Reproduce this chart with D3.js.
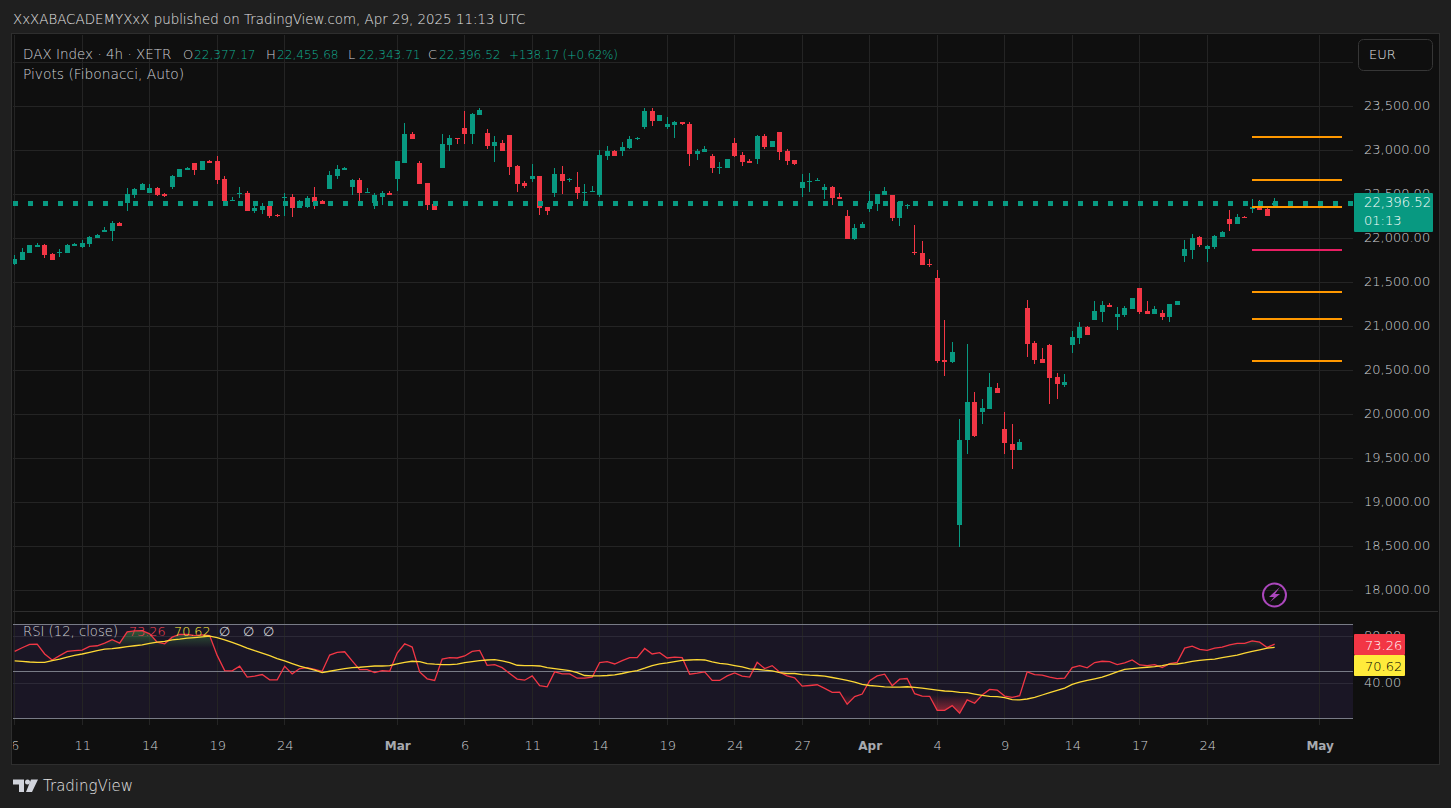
<!DOCTYPE html>
<html>
<head>
<meta charset="utf-8">
<script src="https://cdn.jsdelivr.net/npm/d3@7"></script>
<style>
  html, body { margin: 0; padding: 0; background: #1f1f1f; overflow: hidden; }
  svg { display: block; }
  text { font-family: "DejaVu Sans", sans-serif; font-weight: 200; }
</style>
</head>
<body>
<div id="chart"></div>
<script>
// candle values (index 0 = first bar on the left)
const opens = [
  21708,21753,21833,21901,21924,21821,21833,21833,21912,21901,
  21935,22003,22071,22083,22174,22401,22492,22549,22515,22571,
  22503,22583,22696,22776,22855,22776,22878,22878,22674,22424,
  22503,22515,22310,22321,22367,22264,22458,22469,22344,22355,
  22469,22424,22560,22708,22776,22583,22662,22515,22401,22469,
  22515,22674,22855,23185,22855,22628,22390,22799,23060,23140,
  23253,23185,23401,23196,23049,23083,23174,22821,22628,22674,
  22708,22355,22515,22730,22662,22583,22515,22526,22492,22935,
  22992,22992,23026,23128,23265,23446,23333,23265,23287,23321,
  23299,22958,22981,22935,22799,22799,23083,22947,22878,22901,
  23163,23038,23208,22992,22890,22572,22640,22651,22549,22583,
  22469,22254,21992,22117,22333,22390,22492,22492,22231,22367,
  21844,21833,21708,21548,20617,20594,18742,19707,20139,20026,
  20060,20298,19832,19662,19594,21207,20810,20628,20787,20423,
  20332,20787,20867,20992,21071,21162,21242,21105,21128,21196,
  21435,21173,21139,21151,21105,21242,21799,21867,22014,21878,
  21901,22014,22219,22162,22242,22333,22355,22333,22377.17
];
const highs = [
  21810,21889,21924,21946,21935,21833,21878,21935,21946,21980,
  22026,22049,22128,22196,22185,22571,22571,22628,22617,22583,
  22515,22719,22787,22810,22855,22878,22890,22935,22708,22469,
  22583,22537,22367,22401,22367,22276,22515,22503,22435,22480,
  22583,22435,22765,22833,22810,22674,22685,22571,22515,22537,
  22537,22878,23310,23208,22878,22628,22390,23185,23174,23140,
  23446,23424,23480,23242,23162,23117,23174,22833,22651,22844,
  22708,22355,22799,22821,22685,22753,22617,22594,23003,23049,
  23003,23094,23162,23151,23480,23480,23401,23378,23333,23321,
  23322,23015,23049,22958,22867,22901,23140,22981,22901,23174,
  23185,23106,23208,23015,22890,22731,22742,22685,22617,22594,
  22515,22322,22162,22185,22538,22503,22583,22492,22412,22390,
  22151,21969,21765,21639,21071,20821,19946,20798,20253,20173,
  20469,20355,20026,19889,19719,21298,20833,20753,20798,20469,
  20458,20946,21048,21003,21287,21287,21264,21219,21230,21321,
  21435,21287,21230,21185,21253,21287,21980,22049,22026,21923,
  22037,22083,22321,22276,22253,22446,22435,22344,22455.68
];
const lows = [
  21697,21753,21833,21901,21776,21753,21787,21833,21912,21889,
  21901,22003,22071,21969,22140,22310,22458,22549,22515,22480,
  22469,22560,22696,22776,22719,22776,22855,22617,22424,22424,
  22458,22310,22287,22276,22230,22242,22253,22242,22344,22344,
  22333,22390,22560,22674,22776,22492,22424,22515,22333,22378,
  22492,22537,22855,23128,22617,22321,22321,22799,22992,23071,
  23071,23071,23401,23015,22867,22992,22719,22526,22571,22639,
  22264,22264,22469,22503,22639,22446,22424,22526,22469,22890,
  22935,22935,23015,23117,23242,23276,23333,23242,23140,23287,
  22822,22890,22981,22742,22731,22799,22924,22822,22856,22844,
  23015,23038,22890,22833,22833,22469,22526,22651,22447,22378,
  22447,21992,21981,22117,22299,22310,22492,22197,22140,22333,
  21810,21697,21674,20582,20435,20582,18492,19548,19742,19889,
  20060,20242,19548,19378,19594,20651,20571,20582,20117,20173,
  20310,20696,20798,20901,21071,21048,21219,20958,21105,21196,
  21139,21139,21139,21071,21048,21242,21730,21764,21901,21730,
  21878,22014,22083,22162,22230,22287,22321,22258.35,22343.71
];
const closes = [
  21765,21844,21924,21924,21810,21753,21844,21924,21935,21946,
  22014,22037,22094,22174,22140,22503,22560,22617,22571,22492,
  22480,22708,22787,22799,22776,22878,22855,22662,22424,22435,
  22515,22310,22344,22367,22253,22253,22469,22344,22424,22458,
  22412,22390,22719,22787,22799,22662,22515,22526,22492,22515,
  22492,22878,23185,23128,22617,22378,22321,23071,23140,23128,
  23185,23412,23458,23049,23094,22992,22810,22617,22594,22708,
  22344,22310,22730,22651,22674,22515,22526,22537,22946,22992,
  22935,23037,23128,23140,23446,23333,23401,23299,23321,23299,
  22958,22992,23015,22799,22810,22901,22935,22867,22856,23163,
  23038,23106,22981,22878,22844,22640,22651,22663,22583,22458,
  22447,21992,22117,22162,22401,22503,22538,22231,22412,22378,
  21833,21697,21697,20605,20594,20707,19707,20139,19753,20071,
  20310,20242,19673,19594,19685,20798,20617,20582,20412,20344,
  20367,20878,20992,20901,21173,21242,21219,21139,21207,21321,
  21162,21139,21196,21105,21253,21287,21878,22003,21923,21912,
  22026,22071,22162,22242,22230,22355,22321,22258.35,22396.52
];

const rsiValues = [
  67.1,70.2,73.0,73.3,64.9,59.8,63.5,67.1,67.7,68.2,
  71.3,71.9,74.2,77.0,74.2,83.7,84.6,84.8,82.0,75.0,
  73.6,79.2,81.5,81.5,80.6,81.2,80.6,63.7,50.8,50.5,
  54.5,45.2,46.0,47.4,42.9,42.9,54.5,48.0,52.5,53.3,
  51.9,50.2,64.0,66.3,66.8,59.0,51.6,51.6,49.1,50.8,
  50.2,65.7,73.6,70.8,49.7,43.8,42.4,60.6,61.8,61.5,
  63.2,67.1,68.0,55.3,55.9,53.3,48.3,43.5,42.6,46.3,
  37.9,37.0,49.7,48.0,48.0,44.3,44.3,45.2,57.6,58.4,
  56.4,59.2,61.8,61.8,69.6,64.9,66.0,61.5,62.3,61.8,
  47.7,48.6,49.7,42.4,42.4,46.3,48.8,46.0,45.2,57.8,
  52.5,55.0,49.4,46.3,44.6,37.6,38.1,38.7,35.6,32.2,
  32.5,22.1,28.6,30.8,42.1,46.3,47.7,37.9,43.5,44.0,
  31.1,29.1,28.9,17.0,17.0,21.0,14.5,25.8,23.0,30.0,
  34.8,34.2,29.1,28.0,29.4,49.7,47.4,46.9,45.2,44.0,
  44.3,53.3,55.0,53.1,57.6,58.7,58.4,55.9,57.3,59.8,
  55.6,55.0,55.9,53.3,56.7,57.8,69.9,71.6,68.8,68.0,
  69.9,70.8,72.7,73.9,73.9,76.1,75.0,70.5,73.26
];
const rsiAverage = [
  59.0,58.7,58.1,57.8,57.8,59.2,60.6,62.3,63.7,64.9,
  66.3,67.7,69.1,69.4,70.2,71.1,71.9,72.7,73.9,75.0,
  75.6,77.0,77.5,78.4,78.9,79.5,80.1,78.9,77.0,74.7,
  72.5,69.9,67.7,65.7,63.5,60.9,59.0,56.7,54.5,52.8,
  51.1,49.1,50.2,51.4,52.5,53.3,53.6,54.2,54.7,54.7,
  55.0,56.4,57.8,58.7,58.4,56.7,56.2,55.9,55.9,56.2,
  57.6,58.4,59.2,59.8,60.1,59.0,57.6,55.3,55.0,55.0,
  54.7,53.3,52.5,51.6,50.8,49.1,46.6,46.3,46.3,46.6,
  47.1,48.3,49.7,50.8,52.8,55.0,56.4,57.3,58.4,59.5,
  59.8,60.1,59.8,58.1,57.0,56.2,55.0,53.9,52.2,51.9,
  51.1,50.5,49.1,48.3,48.3,47.4,46.9,46.6,46.0,44.9,
  43.8,42.4,41.0,39.0,38.1,37.6,37.0,36.7,36.7,37.0,
  36.5,35.9,35.0,34.2,33.4,33.1,32.2,32.0,30.8,29.7,
  28.9,28.6,27.7,26.0,25.8,26.6,28.0,30.0,32.0,33.9,
  35.9,39.0,41.0,42.4,43.8,45.2,47.4,49.7,51.9,52.5,
  53.1,53.6,54.2,55.0,56.2,56.4,57.3,58.7,59.5,60.1,
  60.6,61.8,62.9,64.0,65.7,67.1,68.5,69.9,70.62
];

// time axis: bar index of each labelled tick
const timeTickBars = [0, 9, 18, 27, 36, 51, 60, 69, 78, 87, 96, 105, 114, 123, 132, 141, 150, 159, 174];
const timeTickLabels = ['6', '11', '14', '19', '24', 'Mar', '6', '11', '14', '19', '24', '27', 'Apr', '4', '9', '14', '17', '24', 'May'];
const monthLabels = ['Mar', 'Apr', 'May'];

const priceTicks = [18000, 18500, 19000, 19500, 20000, 20500, 21000, 21500, 22000, 22500, 23000, 23500];
const priceGrid = priceTicks.concat([24000]);
const rsiTicks = [40, 80];
const rsiBands = [10, 50, 90];

// Fibonacci pivots, orange except the central P level
const pivotLevels = [23155, 22662, 22359, 21867, 21389, 21086, 20606];
const pivotColors = ['#ff9800', '#ff9800', '#ff9800', '#e91e63', '#ff9800', '#ff9800', '#ff9800'];
const pivotBars = [165, 177];

const lastClose = 22396.52;

const bg = '#1f1f1f', paneBg = '#0f0f0f', rsiBg = '#1a1625';
const up = '#089981', down = '#f23645';
const textCol = '#d0d2d6', upText = '#12ad92';
const gridCol = '#242424', bandCol = '#787b86';

const width = 1451, height = 808;
const L = 13, R = 1353, scaleR = 1438;
const T = 35, B = 763;

const svg = d3.select('#chart').append('svg').attr('width', width).attr('height', height);
const defs = svg.append('defs');

const x = d3.scaleLinear().domain([0, 168]).range([14.67, 1274.67]);
const y = d3.scaleLinear().domain([18000, 23500]).range([590.3, 106.3]);
const rsiY = d3.scaleLinear().domain([10, 90]).range([718.5, 624.5]);
const px = v => Math.floor(v) + 0.5;

// frame
svg.append('rect').attr('x', L - 1.5).attr('y', T - 1.5).attr('width', scaleR - L + 3).attr('height', B - T + 3)
    .attr('fill', paneBg).attr('stroke', '#2e2e2e');

defs.append('clipPath').attr('id', 'plot').append('rect').attr('x', L).attr('y', T).attr('width', R - L).attr('height', 690);
defs.append('clipPath').attr('id', 'overbought').append('rect').attr('x', L).attr('y', rsiY(90)).attr('width', R - L).attr('height', rsiY(70) - rsiY(90));
defs.append('clipPath').attr('id', 'oversold').append('rect').attr('x', L).attr('y', rsiY(30)).attr('width', R - L).attr('height', rsiY(10) - rsiY(30));
defs.append('clipPath').attr('id', 'timeClip').append('rect').attr('x', L).attr('y', -20).attr('width', R - L).attr('height', 40);

// RSI pane background sits under the grid
svg.append('rect').attr('x', L).attr('y', rsiY(90)).attr('width', R - L).attr('height', rsiY(10) - rsiY(90)).attr('fill', rsiBg);

// grid
const grid = svg.append('g').attr('clip-path', 'url(#plot)').attr('stroke', gridCol).attr('shape-rendering', 'crispEdges');
grid.selectAll('.v').data(timeTickBars).enter().append('line')
    .attr('x1', d => px(x(d))).attr('x2', d => px(x(d))).attr('y1', T).attr('y2', 729);
grid.selectAll('.h').data(priceGrid).enter().append('line')
    .attr('x1', L).attr('x2', R).attr('y1', d => px(y(d))).attr('y2', d => px(y(d)));
grid.selectAll('.r').data(rsiTicks).enter().append('line')
    .attr('x1', L).attr('x2', R).attr('y1', d => px(rsiY(d))).attr('y2', d => px(rsiY(d))).attr('stroke', '#2c2937');

// pane separator
svg.append('line').attr('x1', L).attr('x2', scaleR).attr('y1', 611.5).attr('y2', 611.5).attr('stroke', '#2e2e2e');

// RSI bands
svg.append('g').selectAll('line').data(rsiBands).enter().append('line')
    .attr('x1', L).attr('x2', R).attr('y1', d => px(rsiY(d))).attr('y2', d => px(rsiY(d)))
    .attr('stroke', bandCol).attr('shape-rendering', 'crispEdges');

// candles
const candles = svg.append('g').attr('clip-path', 'url(#plot)').attr('shape-rendering', 'crispEdges')
    .selectAll('g').data(opens.map((o, i) => i)).enter().append('g')
    .attr('fill', i => closes[i] >= opens[i] ? up : down);
candles.append('rect')
    .attr('x', i => Math.floor(x(i)))
    .attr('width', 1)
    .attr('y', i => Math.round(y(highs[i])))
    .attr('height', i => Math.max(1, Math.round(y(lows[i])) - Math.round(y(highs[i]))));
candles.append('rect')
    .attr('x', i => Math.floor(x(i)) - 2)
    .attr('width', 5)
    .attr('y', i => Math.round(y(Math.max(opens[i], closes[i]))))
    .attr('height', i => Math.max(1, Math.round(y(Math.min(opens[i], closes[i]))) - Math.round(y(Math.max(opens[i], closes[i])))));

// last price dotted line
svg.append('line').attr('x1', L).attr('x2', R).attr('y1', y(lastClose)).attr('y2', y(lastClose))
    .attr('stroke', up).attr('stroke-width', 5).attr('stroke-dasharray', '5 10');

// pivots
svg.append('g').selectAll('line').data(pivotLevels).enter().append('line')
    .attr('x1', x(pivotBars[0])).attr('x2', x(pivotBars[1]))
    .attr('y1', d => Math.round(y(d))).attr('y2', d => Math.round(y(d)))
    .attr('stroke', (d, i) => pivotColors[i]).attr('stroke-width', 2).attr('shape-rendering', 'crispEdges');

// RSI fills
const gradGreen = defs.append('linearGradient').attr('id', 'gGreen').attr('gradientUnits', 'userSpaceOnUse')
    .attr('x1', 0).attr('x2', 0).attr('y1', rsiY(85)).attr('y2', rsiY(70));
gradGreen.append('stop').attr('offset', 0).attr('stop-color', '#4caf50').attr('stop-opacity', 0.45);
gradGreen.append('stop').attr('offset', 1).attr('stop-color', '#4caf50').attr('stop-opacity', 0);
const gradRed = defs.append('linearGradient').attr('id', 'gRed').attr('gradientUnits', 'userSpaceOnUse')
    .attr('x1', 0).attr('x2', 0).attr('y1', rsiY(30)).attr('y2', rsiY(14));
gradRed.append('stop').attr('offset', 0).attr('stop-color', down).attr('stop-opacity', 0);
gradRed.append('stop').attr('offset', 1).attr('stop-color', down).attr('stop-opacity', 0.6);

const rsiBars = rsiValues.map((v, i) => i);
const area = level => d3.area().x(i => x(i)).y0(rsiY(level)).y1(i => rsiY(rsiValues[i]))(rsiBars);
svg.append('path').attr('clip-path', 'url(#overbought)').attr('d', area(70)).attr('fill', 'url(#gGreen)');
svg.append('path').attr('clip-path', 'url(#oversold)').attr('d', area(30)).attr('fill', 'url(#gRed)');

// RSI lines
const rsiLine = d3.line().x((d, i) => x(i)).y(d => rsiY(d));
const rsiLines = svg.append('g').attr('clip-path', 'url(#plot)').attr('fill', 'none').attr('stroke-width', 1.3);
rsiLines.append('path').attr('d', rsiLine(rsiValues)).attr('stroke', down);
rsiLines.append('path').attr('d', rsiLine(rsiAverage)).attr('stroke', '#fdd835');

// price axis
const priceAxis = svg.append('g').attr('transform', 'translate(1362,-1)')
    .call(d3.axisRight(y).tickValues(priceTicks).tickSize(0).tickPadding(2).tickFormat(d3.format(',.2f')));
priceAxis.select('.domain').remove();
priceAxis.selectAll('text').attr('fill', textCol).attr('font-size', 13).attr('font-family', null);

const rsiAxis = svg.append('g').attr('transform', 'translate(1362,-1)')
    .call(d3.axisRight(rsiY).tickValues(rsiTicks).tickSize(0).tickPadding(2).tickFormat(d3.format('.2f')));
rsiAxis.select('.domain').remove();
rsiAxis.selectAll('text').attr('fill', textCol).attr('font-size', 13).attr('font-family', null);

// time axis: positions come from the bar scale
const timeAxis = svg.append('g').attr('clip-path', 'url(#timeClip)').attr('transform', 'translate(0,741)')
    .call(d3.axisBottom(x).tickValues(timeTickBars).tickSize(0).tickPadding(0)
        .tickFormat((d, i) => timeTickLabels[i]));
timeAxis.select('.domain').remove();
timeAxis.selectAll('text')
    .attr('fill', (d, i) => monthLabels.includes(timeTickLabels[i]) ? '#a8aab0' : textCol)
    .attr('font-size', (d, i) => monthLabels.includes(timeTickLabels[i]) ? 12 : 13)
    .attr('font-family', null)
    .style('font-weight', (d, i) => monthLabels.includes(timeTickLabels[i]) ? 700 : 200);

// last price tags
const tag = (x0, y0, w, h, fill) => svg.append('rect').attr('x', x0).attr('y', y0).attr('width', w).attr('height', h).attr('rx', 1).attr('fill', fill);
const label = (t, x0, y0, size, fill, weight) => svg.append('text').attr('x', x0).attr('y', y0)
    .attr('font-size', size).attr('fill', fill).style('font-weight', weight || 200).text(t);

tag(1354, 193, 79, 39, up);
label('22,396.52', 1364, 207, 13.2, '#ffffff', 300);
label('01:13', 1364, 225, 13, '#ffffff');
tag(1354, 634, 51, 21, down);
label('73.26', 1365, 650, 13, '#ffffff', 300);
tag(1354, 655, 51, 21, '#ffeb3b');
label('70.62', 1365, 671, 13, '#000000', 300);

// header and legends
label('XxXABACADEMYXxX published on TradingView.com, Apr 29, 2025 11:13 UTC', 13, 24, 13.4, '#e4e4e4');
label('DAX Index · 4h · XETR', 23, 59, 13.5, textCol);
const ohlcLabels = ['O', 'H', 'L', 'C'];
const ohlcLast = ['22,377.17', '22,455.68', '22,343.71', '22,396.52'];
const ohlcX = [183, 266, 348, 428];
ohlcLabels.forEach((k, i) => {
  label(k, ohlcX[i], 59, 13, textCol);
  label(ohlcLast[i], ohlcX[i] + 11, 59, 12.1, upText);
});
label('+138.17 (+0.62%)', 509, 59, 12, upText).attr('letter-spacing', -0.3);
label('Pivots (Fibonacci, Auto)', 23, 79, 13.8, textCol);

label('RSI (12, close)', 23, 636, 13.2, textCol);
label('73.26', 129, 636, 12.8, '#ff4455');
label('70.62', 174, 636, 12.8, '#ffeb3b');
label('∅', 219, 636, 12.5, textCol);
label('∅', 243, 636, 12.5, textCol);
label('∅', 263, 636, 12.5, textCol);

// currency button
svg.append('rect').attr('x', 1358.5).attr('y', 39.5).attr('width', 74).attr('height', 31).attr('rx', 5)
    .attr('fill', paneBg).attr('stroke', '#363636');
label('EUR', 1369, 59, 13, '#e4e4e4');

// lightning badge
svg.append('circle').attr('cx', 1274.5).attr('cy', 595).attr('r', 11.5).attr('fill', 'none').attr('stroke', '#ab47bc').attr('stroke-width', 2);
svg.append('path').attr('d', 'M1280 587 L1269 597 L1274 597 L1270 602 L1280 594 L1275 594 Z').attr('fill', '#ab47bc');

// footer logo
svg.append('path').attr('fill', '#d1d4dc')
    .attr('d', 'M13 779.5 H24 V792 H19 V784.5 H13 Z M31 779.5 H38 L32 792 H26 Z');
svg.append('circle').attr('cx', 27.5).attr('cy', 782).attr('r', 2.5).attr('fill', '#d1d4dc');
label('TradingView', 43, 791, 15, '#e4e4e4');
</script>
</body>
</html>
